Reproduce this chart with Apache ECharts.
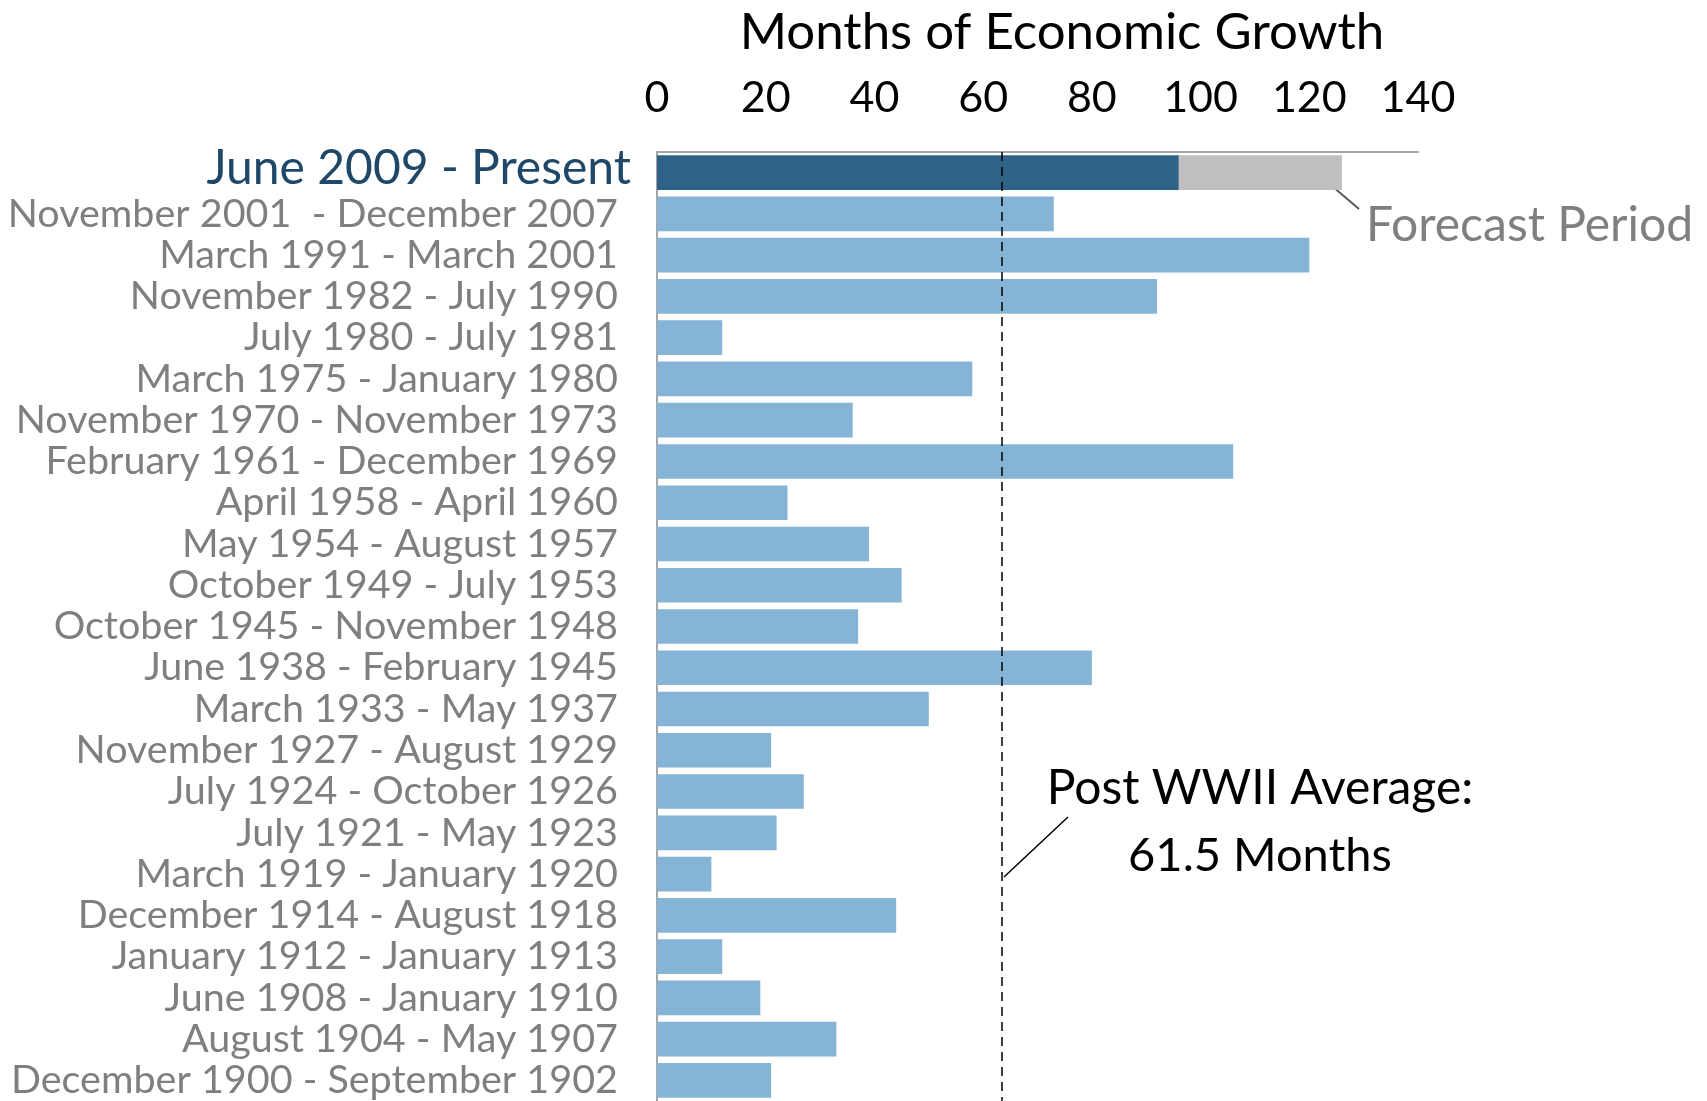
<!DOCTYPE html>
<html>
<head>
<meta charset="utf-8">
<script src="https://cdn.jsdelivr.net/npm/echarts@6/dist/echarts.min.js"></script>
<style>
html,body{margin:0;padding:0;background:#fff;}
#chart{width:1707px;height:1101px;}
</style>
</head>
<body>
<div id="chart"></div>
<script>
const categories = [
  "June 2009 - Present",
  "November 2001  - December 2007",
  "March 1991 - March 2001",
  "November 1982 - July 1990",
  "July 1980 - July 1981",
  "March 1975 - January 1980",
  "November 1970 - November 1973",
  "February 1961 - December 1969",
  "April 1958 - April 1960",
  "May 1954 - August 1957",
  "October 1949 - July 1953",
  "October 1945 - November 1948",
  "June 1938 - February 1945",
  "March 1933 - May 1937",
  "November 1927 - August 1929",
  "July 1924 - October 1926",
  "July 1921 - May 1923",
  "March 1919 - January 1920",
  "December 1914 - August 1918",
  "January 1912 - January 1913",
  "June 1908 - January 1910",
  "August 1904 - May 1907",
  "December 1900 - September 1902"
];
const months = [96, 73, 120, 92, 12, 58, 36, 106, 24, 39, 45, 37, 80, 50, 21, 27, 22, 10, 44, 12, 19, 33, 21];
const forecast = [30, '-', '-', '-', '-', '-', '-', '-', '-', '-', '-', '-', '-', '-', '-', '-', '-', '-', '-', '-', '-', '-', '-'];
const postWWIIAverageLine = 63.5;
const xTicks = [0, 20, 40, 60, 80, 100, 120, 140];

const FONT = 'Lato';
const chart = echarts.init(document.getElementById('chart'), null, {renderer: 'canvas'});

const option = {
  backgroundColor: '#ffffff',
  animation: false,
  textStyle: {fontFamily: FONT},
  title: {
    text: 'Months of Economic Growth',
    left: 1057,
    top: 2,
    textAlign: 'center',
    textStyle: {fontFamily: FONT, fontSize: 51, fontWeight: 'normal', color: '#000000'}
  },
  grid: {left: 657, top: 152, width: 761, height: 952, containLabel: false},
  xAxis: {
    type: 'value',
    position: 'top',
    min: xTicks[0],
    max: xTicks[xTicks.length - 1],
    interval: 20,
    axisLine: {show: true, lineStyle: {color: '#A6A6A6', width: 2}},
    axisTick: {show: false},
    splitLine: {show: false},
    axisLabel: {fontFamily: FONT, fontSize: 43, color: '#000000', margin: 32}
  },
  yAxis: {
    type: 'category',
    inverse: true,
    data: categories,
    axisLine: {show: true, lineStyle: {color: '#A6A6A6', width: 2}},
    axisTick: {show: false},
    axisLabel: {
      margin: 26,
      formatter: function (v, i) { return i === 0 ? '{hl|' + v + '}' : '{n|' + v + '}'; },
      rich: {
        hl: {fontFamily: FONT, fontSize: 48, color: '#1F4868', padding: [0, 0, 8, 0]},
        n: {fontFamily: FONT, fontSize: 39.5, color: '#7F7F7F', padding: [0, 13, 0, 0]}
      }
    }
  },
  series: [
    {
      type: 'bar',
      stack: 'total',
      barCategoryGap: '16%',
      data: months.map(function (v, i) {
        return {value: v, itemStyle: {color: i === 0 ? '#2E6287' : '#85B4D6'}};
      }),
      markLine: {
        silent: true,
        symbol: 'none',
        label: {show: false},
        lineStyle: {color: '#000000', type: [9, 6], width: 1.5},
        data: [{xAxis: postWWIIAverageLine}]
      }
    },
    {
      type: 'bar',
      stack: 'total',
      data: forecast,
      itemStyle: {color: '#BFBFBF'}
    }
  ],
  graphic: [
    {type: 'line', shape: {x1: 1312, y1: 169, x2: 1359, y2: 209}, style: {stroke: '#595959', lineWidth: 2}},
    {type: 'text', left: 1366, top: 202, style: {text: 'Forecast Period', fontFamily: FONT, fontSize: 48, fill: '#7F7F7F'}},
    {type: 'line', shape: {x1: 1068, y1: 817, x2: 1004, y2: 877}, style: {stroke: '#000000', lineWidth: 1.5}},
    {type: 'text', x: 1260, y: 789, style: {text: 'Post WWII Average:', fontFamily: FONT, fontSize: 48, fill: '#000000', textAlign: 'center', textVerticalAlign: 'middle'}},
    {type: 'text', x: 1260, y: 856, style: {text: '61.5 Months', fontFamily: FONT, fontSize: 47, fill: '#000000', textAlign: 'center', textVerticalAlign: 'middle'}}
  ]
};
chart.setOption(option);
</script>
</body>
</html>
